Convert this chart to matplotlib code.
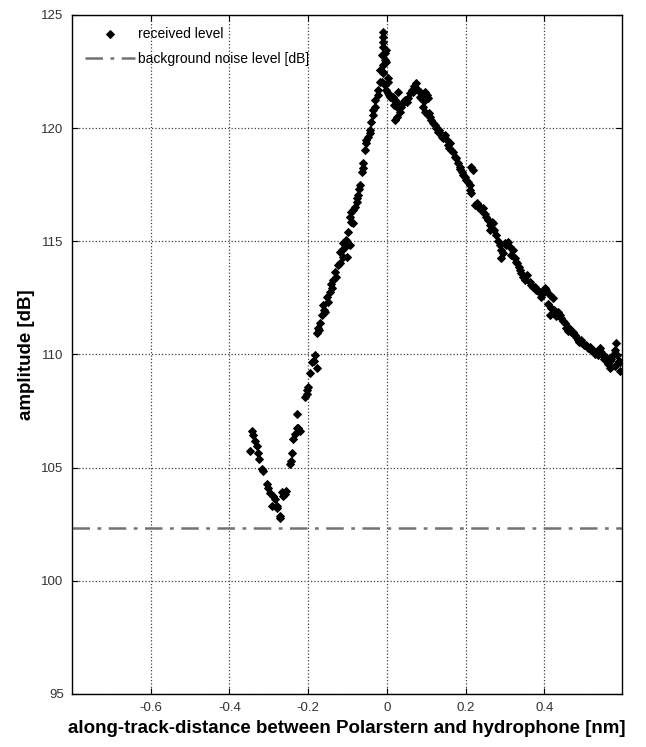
import numpy as np
from matplotlib import pyplot as plt

# along-track distance [nm] and received level [dB]
DIST = [
    -0.343, -0.340, -0.335, -0.331, -0.348, -0.327, -0.325, -0.317, -0.315, -0.305,
    -0.302, -0.297, -0.289, -0.284, -0.292, -0.279, -0.272, -0.272, -0.280, -0.259,
    -0.263, -0.267, -0.255, -0.246, -0.244, -0.242, -0.239, -0.234, -0.229, -0.221,
    -0.226, -0.229, -0.208, -0.204, -0.200, -0.204, -0.195, -0.178, -0.191, -0.183,
    -0.178, -0.175, -0.170, -0.166, -0.157, -0.162, -0.150, -0.145, -0.140, -0.137,
    -0.128, -0.132, -0.119, -0.112, -0.102, -0.119, -0.107, -0.112, -0.094, -0.099,
    -0.086, -0.094, -0.090, -0.086, -0.077, -0.090, -0.077, -0.074, -0.069, -0.064,
    -0.061, -0.061, -0.056, -0.052, -0.052, -0.048, -0.043, -0.043, -0.039, -0.036,
    -0.036, -0.030, -0.030, -0.023, -0.023, -0.018, -0.018, -0.013, -0.010, -0.010,
    -0.005, -0.005, -0.001, -0.009, -0.009, -0.011, -0.009, -0.012, -0.001, -0.009,
    0.003, -0.005, 0.003, -0.001, 0.003, 0.008, 0.012, 0.015, 0.020, 0.028,
    0.025, 0.028, 0.033, 0.025, 0.020, 0.037, 0.041, 0.046, 0.050, 0.053,
    0.058, 0.063, 0.066, 0.071, 0.075, 0.079, 0.084, 0.084, 0.088, 0.091,
    0.096, 0.101, 0.104, 0.091, 0.096, 0.104, 0.109, 0.113, 0.117, 0.122,
    0.126, 0.129, 0.135, 0.139, 0.142, 0.147, 0.152, 0.155, 0.160, 0.164,
    0.168, 0.173, 0.177, 0.180, 0.185, 0.190, 0.193, 0.198, 0.202, 0.211,
    0.215, 0.218, 0.211, 0.215, 0.223, 0.231, 0.228, 0.236, 0.240, 0.244,
    0.253, 0.256, 0.261, 0.266, 0.269, 0.261, 0.278, 0.287, 0.291, 0.294,
    0.291, 0.299, 0.307, 0.312, 0.320, 0.325, 0.329, 0.332, 0.338, 0.342,
    0.355, 0.350, 0.363, 0.367, 0.376, 0.380, 0.388, 0.393, 0.401, 0.405,
    0.414, 0.421, 0.418, 0.414, 0.426, 0.434, 0.439, 0.443, 0.447, 0.452,
    0.456, 0.464, 0.472, 0.477, 0.481, 0.485, 0.494, 0.497, 0.507, 0.510,
    0.515, 0.523, 0.528, 0.532, 0.536, 0.541, 0.548, 0.558, 0.566, 0.570,
    0.574, 0.583, 0.579, 0.586, 0.590, 0.593, 0.592, 0.566, 0.561, 0.579,
    -0.185, -0.172, -0.160, -0.153, -0.143, -0.124, -0.115, -0.104, -0.082, -0.071,
    0.006, 0.017, 0.044, 0.069, 0.094, 0.107, 0.133, 0.158, 0.187, 0.206,
    0.249, 0.273, 0.283, 0.303, 0.316, 0.335, 0.346, 0.371, 0.384, 0.397,
    0.409, 0.430, 0.460, 0.468, 0.489, 0.502, 0.519, 0.545, 0.553, 0.562,
]
LEVEL = [
    106.64, 106.42, 106.19, 105.97, 105.75, 105.66, 105.40, 104.96, 104.87, 104.29,
    104.12, 103.90, 103.76, 103.63, 103.32, 103.23, 102.88, 102.79, 103.30, 103.85,
    103.76, 103.91, 103.98, 105.18, 105.31, 105.66, 106.28, 106.50, 106.73, 106.64,
    106.77, 107.39, 108.10, 108.27, 108.54, 108.41, 109.16, 109.42, 109.65, 109.96,
    110.93, 111.15, 111.37, 111.73, 111.86, 112.17, 112.30, 112.74, 112.92, 113.27,
    113.41, 113.63, 114.03, 114.29, 114.29, 114.51, 114.73, 114.91, 114.82, 115.40,
    115.80, 116.06, 116.28, 116.37, 116.73, 115.84, 116.90, 117.04, 117.48, 118.05,
    118.23, 118.45, 119.03, 119.34, 119.47, 119.60, 119.78, 119.91, 120.27, 120.58,
    120.80, 120.93, 121.24, 121.46, 121.68, 122.04, 122.57, 122.04, 122.43, 122.79,
    123.01, 123.32, 123.45, 124.26, 124.04, 123.82, 123.60, 123.23, 122.93, 122.49,
    122.20, 121.90, 122.04, 121.68, 121.55, 121.37, 121.33, 121.37, 121.24, 121.59,
    121.11, 120.88, 120.71, 120.49, 120.35, 120.93, 121.11, 121.24, 121.15, 121.33,
    121.55, 121.68, 121.59, 121.77, 121.99, 121.68, 121.59, 121.37, 121.33, 121.24,
    121.59, 121.46, 121.33, 120.93, 120.71, 120.58, 120.49, 120.35, 120.22, 120.13,
    120.00, 119.82, 119.78, 119.60, 119.56, 119.69, 119.47, 119.25, 119.34, 119.03,
    118.94, 118.72, 118.67, 118.45, 118.27, 118.05, 117.92, 117.83, 117.70, 117.48,
    118.27, 118.14, 117.26, 117.12, 116.59, 116.50, 116.68, 116.50, 116.37, 116.46,
    116.06, 115.93, 115.71, 115.84, 115.80, 115.49, 115.27, 114.82, 114.60, 114.47,
    114.25, 114.91, 114.96, 114.73, 114.60, 114.25, 114.07, 114.03, 113.72, 113.58,
    113.50, 113.27, 113.19, 113.05, 112.96, 112.83, 112.74, 112.52, 112.92, 112.83,
    112.61, 112.48, 112.04, 111.73, 111.95, 111.86, 111.73, 111.59, 111.50, 111.37,
    111.19, 111.15, 110.97, 110.84, 110.75, 110.62, 110.62, 110.49, 110.40, 110.27,
    110.31, 110.18, 110.04, 110.09, 109.96, 110.27, 110.04, 109.87, 109.73, 109.82,
    109.96, 110.49, 110.18, 109.96, 109.73, 109.65, 109.29, 109.38, 109.60, 109.51,
    109.70, 111.10, 111.95, 112.55, 113.10, 113.95, 114.60, 115.05, 116.50, 117.30,
    121.45, 121.00, 121.20, 121.85, 121.20, 120.65, 119.90, 119.10, 118.20, 117.60,
    116.20, 115.50, 115.00, 114.85, 114.40, 113.85, 113.40, 113.00, 112.80, 112.70,
    112.25, 111.70, 111.05, 111.00, 110.55, 110.40, 110.20, 110.10, 109.80, 109.75,
]
NOISE_LEVEL = 102.35

X_TICKS = [-0.6, -0.4, -0.2, 0, 0.2, 0.4]
X_TICK_LABELS = ['-0.6', '-0.4', '-0.2', '0', '0.2', '0.4']
Y_TICKS = [95, 100, 105, 110, 115, 120, 125]

plt.rcParams['font.family'] = ['Liberation Sans', 'DejaVu Sans']

fig = plt.figure(figsize=(6.46, 7.47), dpi=100)
ax = fig.add_axes([0.1115, 0.071, 0.851, 0.909])

ax.plot(DIST, LEVEL, linestyle='none', marker='D', markersize=3.8,
        color='black', markeredgewidth=0.7, label='received level')
ax.axhline(NOISE_LEVEL, color='0.45', linewidth=1.8, dashes=(7, 3, 1.5, 3),
           label='background noise level [dB]')

ax.set_xlim(-0.8, 0.597)
ax.set_ylim(95, 125)
ax.set_xticks(X_TICKS)
ax.set_xticklabels(X_TICK_LABELS)
ax.set_yticks(Y_TICKS)
ax.grid(True, linestyle=':', color='0.25', linewidth=0.9)
ax.tick_params(direction='in', length=4, top=True, right=True,
               labelsize=9.5, labelcolor='0.2', pad=6)
for s in ax.spines.values():
    s.set_linewidth(1.0)

ax.set_xlabel('along-track-distance between Polarstern and hydrophone [nm]',
              fontsize=13.5, fontweight='bold', labelpad=4)
ax.set_ylabel('amplitude [dB]', fontsize=13.5, fontweight='bold', labelpad=5)

ax.legend(loc='upper left', frameon=False, fontsize=10, handlelength=3.6,
          bbox_to_anchor=(0.0, 1.0), borderaxespad=0.5, labelspacing=0.75,
          handletextpad=0.25)

fig.savefig('out.png', dpi=100)
